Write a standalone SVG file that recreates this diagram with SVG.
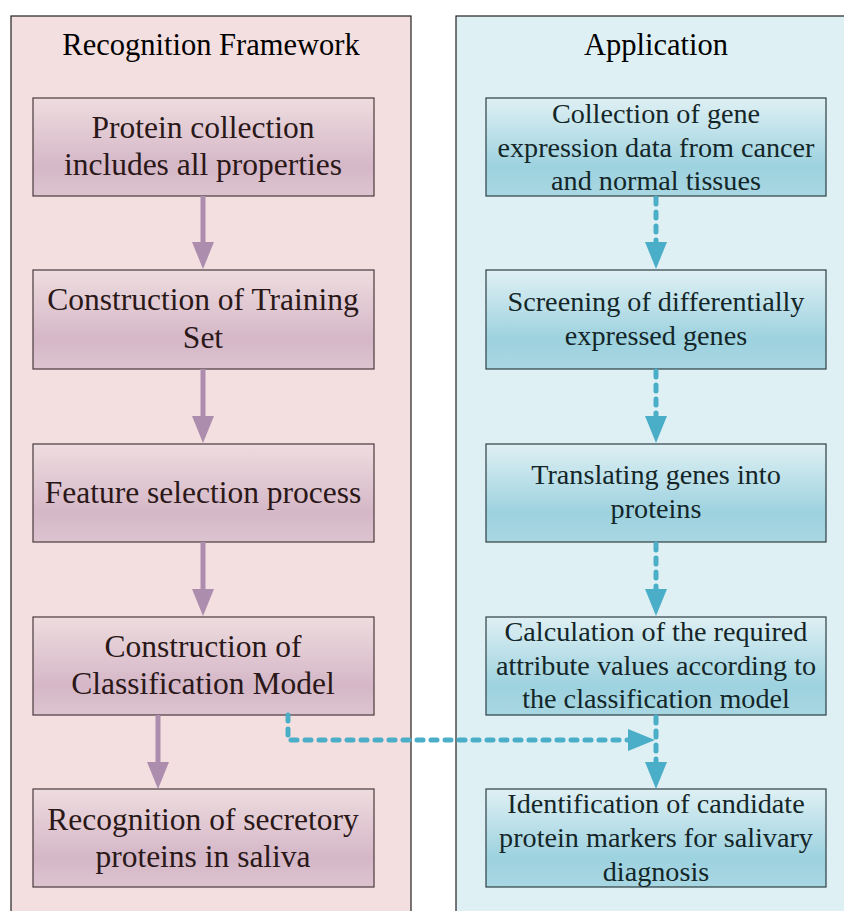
<svg xmlns="http://www.w3.org/2000/svg" width="844" height="911" viewBox="0 0 844 911">
<defs>
<linearGradient id="gl" x1="0" y1="0" x2="0" y2="1"><stop offset="0" stop-color="#eedcdf"/><stop offset="0.7" stop-color="#d5b7c7"/><stop offset="1" stop-color="#dcc4cf"/></linearGradient>
<linearGradient id="gr" x1="0" y1="0" x2="0" y2="1"><stop offset="0" stop-color="#dff0f4"/><stop offset="0.7" stop-color="#9dd2df"/><stop offset="1" stop-color="#a8d7e2"/></linearGradient>
</defs>
<style>
.pl{fill:#f3dfdf;stroke:#222;stroke-width:1.2}
.pr{fill:#dff0f4;stroke:#222;stroke-width:1.2}
.bl{fill:url(#gl);stroke:#4a3a3e;stroke-width:1.2}
.br{fill:url(#gr);stroke:#2e3e44;stroke-width:1.2}
text{text-anchor:middle;font-family:'Liberation Serif','Times New Roman',serif}
.t{font-size:30.5px;fill:#000}
.l{font-size:31.5px;fill:#2a1818}
.r{font-size:28.2px;fill:#142628}
.ap{stroke:#ad8dad;stroke-width:5;fill:none}
.ab{stroke:#4aaec8;stroke-width:5;fill:none;stroke-dasharray:6 8;stroke-linecap:round}
</style>
<g id="panel-left"><rect class="pl" x="11" y="16" width="400" height="900"/><text class="t" x="211" y="55">Recognition Framework</text></g>
<g id="panel-right"><rect class="pr" x="456" y="16" width="400" height="900"/><text class="t" x="656" y="55">Application</text></g>
<g id="l1"><rect class="bl" x="33" y="98" width="341" height="98"/><text class="l" x="203" y="138">Protein collection</text><text class="l" x="203" y="175">includes all properties</text></g>
<g id="l2"><rect class="bl" x="33" y="270" width="341" height="99"/><text class="l" x="203" y="310">Construction of Training</text><text class="l" x="203" y="348">Set</text></g>
<g id="l3"><rect class="bl" x="33" y="444" width="341" height="98"/><text class="l" x="203" y="503">Feature selection process</text></g>
<g id="l4"><rect class="bl" x="33" y="617" width="341" height="98"/><text class="l" x="203" y="657">Construction of</text><text class="l" x="203" y="694">Classification Model</text></g>
<g id="l5"><rect class="bl" x="33" y="789" width="341" height="98"/><text class="l" x="203" y="830">Recognition of secretory</text><text class="l" x="203" y="867">proteins in saliva</text></g>
<g id="r1"><rect class="br" x="486" y="98" width="340" height="98"/><text class="r" x="656" y="123">Collection of gene</text><text class="r" x="656" y="157">expression data from cancer</text><text class="r" x="656" y="190">and normal tissues</text></g>
<g id="r2"><rect class="br" x="486" y="270" width="340" height="99"/><text class="r" x="656" y="311">Screening of differentially</text><text class="r" x="656" y="345">expressed genes</text></g>
<g id="r3"><rect class="br" x="486" y="444" width="340" height="98"/><text class="r" x="656" y="484">Translating genes into</text><text class="r" x="656" y="518">proteins</text></g>
<g id="r4"><rect class="br" x="486" y="617" width="340" height="98"/><text class="r" x="656" y="641">Calculation of the required</text><text class="r" x="656" y="675">attribute values according to</text><text class="r" x="656" y="708">the classification model</text></g>
<g id="r5"><rect class="br" x="486" y="789" width="340" height="98"/><text class="r" x="656" y="813">Identification of candidate</text><text class="r" x="656" y="847">protein markers for salivary</text><text class="r" x="656" y="881">diagnosis</text></g>
<g id="connectors">
<g class="ap"><line x1="203" y1="196" x2="203" y2="244"/><line x1="203" y1="369" x2="203" y2="418"/><line x1="203" y1="542" x2="203" y2="591"/><line x1="158" y1="715" x2="158" y2="763"/></g>
<g fill="#ad8dad"><path d="M192,242 L214,242 L203,269 Z"/><path d="M192,416 L214,416 L203,443 Z"/><path d="M192,589 L214,589 L203,616 Z"/><path d="M147,762 L169,762 L158,789 Z"/></g>
<g class="ab"><path d="M656,198 V242"/><path d="M656,371 V416"/><path d="M656,544 V589"/><path d="M656,717 V762"/><path d="M288,715 V740 H628"/></g>
<g fill="#4aaec8"><path d="M645,242 L667,242 L656,269 Z"/><path d="M645,416 L667,416 L656,443 Z"/><path d="M645,589 L667,589 L656,616 Z"/><path d="M645,762 L667,762 L656,789 Z"/><path d="M628,729 L655,740 L628,751 Z"/></g>
</g>
</svg>
